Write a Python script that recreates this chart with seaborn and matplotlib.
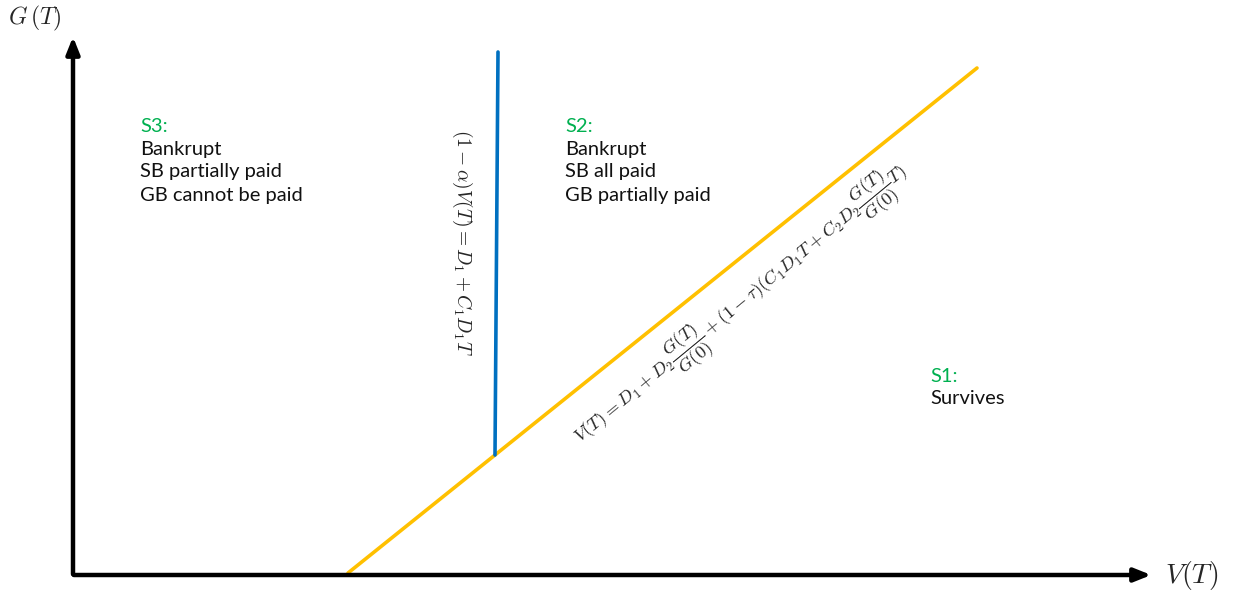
import matplotlib
matplotlib.use("Agg")
import matplotlib.pyplot as plt
import seaborn as sns
import pandas as pd

# diagram drawn in a pixel-like coordinate space (y measured downward)
yellow_x = [348, 977]
yellow_y = [573, 68]
blue_x = [498, 495]
blue_y = [52, 455]

s3_lines = ["Bankrupt", "SB partially paid", "GB cannot be paid"]
s2_lines = ["Bankrupt", "SB all paid", "GB partially paid"]
s1_lines = ["Survives"]

sns.set_style("white")
plt.rcParams['mathtext.fontset'] = 'cm'
plt.rcParams['font.family'] = ['Lato', 'DejaVu Sans']

fig = plt.figure(figsize=(12.5, 6.01), dpi=100)
ax = fig.add_axes([0, 0, 1, 1])

df_y = pd.DataFrame({'x': yellow_x, 'y': yellow_y})
df_b = pd.DataFrame({'x': blue_x, 'y': blue_y})
sns.lineplot(data=df_y, x='x', y='y', ax=ax, color='#FFC000', lw=2.6, sort=False)
sns.lineplot(data=df_b, x='x', y='y', ax=ax, color='#0070C0', lw=2.6, sort=False)
ax.set_xlim(0, 1250)
ax.set_ylim(601, 0)
ax.axis('off')

# axes arrows
ax.annotate('', xy=(73, 34), xytext=(73, 577),
            arrowprops=dict(arrowstyle='-|>,head_length=1.0,head_width=0.4', lw=3.2, color='black'))
ax.annotate('', xy=(1154, 575), xytext=(71, 575),
            arrowprops=dict(arrowstyle='-|>,head_length=1.0,head_width=0.4', lw=3.2, color='black'))

ax.text(8, 18, r'$G\,(T)$', fontsize=17, va='center', ha='left')
ax.text(1165, 576, r'$V(T)$', fontsize=20, va='center', ha='left')

green = '#00B050'
def block(x, y, lines):
    ax.text(x, y, lines[0], color=green, fontsize=14.5, va='center')
    for i, s in enumerate(lines[1:]):
        ax.text(x, y + 23 * (i + 1), s, color='#111111', fontsize=14.5, va='center')

block(140, 126, ["S3:"] + s3_lines)
block(565, 126, ["S2:"] + s2_lines)
block(930, 376, ["S1:"] + s1_lines)

ax.text(462, 242, r'$(1-\alpha)V(T) = D_1 + C_1 D_1 T$', rotation=-90,
        fontsize=14, ha='center', va='center')
ax.text(742, 306,
        r'$V(T) = D_1 + D_2\dfrac{G(T)}{G(0)} + (1-\tau)(C_1 D_1 T + C_2 D_2 \dfrac{G(T)}{G(0)} T)$',
        rotation=39.5, fontsize=13.3, ha='center', va='center', rotation_mode='anchor')

fig.savefig('out.png', dpi=100)
